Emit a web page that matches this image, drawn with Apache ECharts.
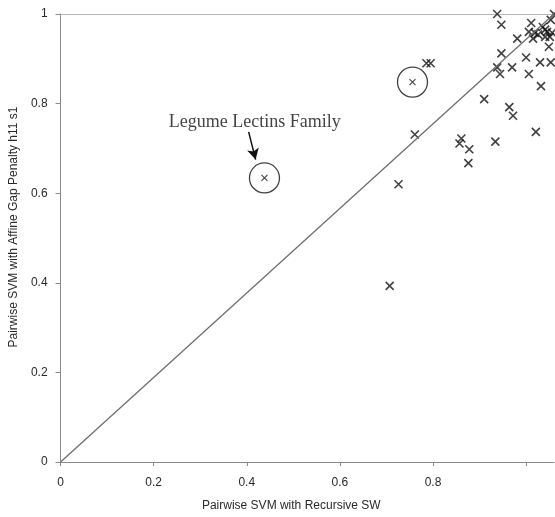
<!DOCTYPE html>
<html>
<head>
<meta charset="utf-8">
<script src="https://cdn.jsdelivr.net/npm/echarts@6/dist/echarts.min.js"></script>
<style>html,body{margin:0;padding:0;background:#fff}#c{width:555px;height:517px}</style>
</head>
<body>
<div id="c"></div>
<script>
// ---- data (x = Pairwise SVM with Recursive SW, y = Pairwise SVM with Affine Gap Penalty h11 s1)
var families = [
  [0.938,1.000],[0.947,0.976],[1.011,0.980],[1.036,0.971],[1.053,0.987],[1.060,1.000],
  [1.006,0.960],[1.019,0.958],[1.045,0.960],[1.056,0.958],[0.981,0.945],[1.015,0.945],
  [1.041,0.949],[1.051,0.949],[1.026,0.954],[1.041,0.965],[1.049,0.927],[0.947,0.912],
  [1.000,0.903],[1.030,0.892],[1.053,0.892],[0.938,0.881],[0.970,0.881],[0.944,0.866],
  [1.006,0.866],[1.032,0.839],[0.910,0.810],[0.964,0.792],[0.972,0.773],[1.021,0.737],
  [0.934,0.715],[0.861,0.722],[0.857,0.711],[0.878,0.698],[0.876,0.667],[0.761,0.731],
  [0.726,0.620],[0.707,0.393],[0.786,0.890],[0.795,0.890]
];
var circled = [[0.438,0.634],[0.756,0.848]];
var diagonal = [[0,0],[1.06,1]];
var annotationText = 'Legume Lectins Family';
var annotationPos = [[0.417,0.758]];
var arrowFrom = [0.404,0.737];
var arrowTo = [0.419,0.675];
var xTicks = [0,0.2,0.4,0.6,0.8,1.0];
var xLabels = [0,0.2,0.4,0.6,0.8];
var yTicks = [0,0.2,0.4,0.6,0.8,1];
var xName = 'Pairwise SVM with Recursive SW';
var yName = 'Pairwise SVM with Affine Gap Penalty h11 s1';

var cross = 'path://M0,0L10,10M10,0L0,10';
var chart = echarts.init(document.getElementById('c'));
chart.setOption({
  animation: false,
  grid: {left: 58, top: 14, width: 496, height: 455},
  xAxis: [{
    type: 'value', min: 0, max: 1.06, interval: 0.2,
    axisLine: {lineStyle: {color: '#8a8a8a', width: 1}},
    axisTick: {show: true, length: 4, customValues: xTicks, lineStyle: {color: '#8a8a8a'}},
    axisLabel: {customValues: xLabels, margin: 15, color: '#2a2a2a', fontSize: 12, fontFamily: 'Liberation Sans, Arial, sans-serif'},
    splitLine: {show: false},
    name: xName, nameLocation: 'middle', nameGap: 38,
    nameTextStyle: {color: '#2a2a2a', fontSize: 12, fontFamily: 'Liberation Sans, Arial, sans-serif', padding: [0, 32, 0, 0]}
  }, {
    type: 'value', min: 0, max: 1.06, position: 'top',
    axisLine: {show: true, onZero: false, lineStyle: {color: '#b5b5b5', width: 1}},
    axisTick: {show: false}, axisLabel: {show: false}, splitLine: {show: false}
  }],
  yAxis: {
    type: 'value', min: 0, max: 1, interval: 0.2,
    axisLine: {show: true, lineStyle: {color: '#8a8a8a', width: 1}},
    axisTick: {show: true, length: 5, customValues: yTicks, lineStyle: {color: '#8a8a8a'}},
    axisLabel: {margin: 13, color: '#2a2a2a', fontSize: 12, fontFamily: 'Liberation Sans, Arial, sans-serif'},
    splitLine: {show: false},
    name: yName, nameLocation: 'middle', nameGap: 32,
    nameTextStyle: {color: '#2a2a2a', fontSize: 12, fontFamily: 'Liberation Sans, Arial, sans-serif', padding: [0, 0, 0, 22]}
  },
  series: [
    {
      type: 'line', data: diagonal, symbol: 'none', silent: true,
      lineStyle: {color: '#6e6e6e', width: 1.3}
    },
    {
      type: 'scatter', data: families, symbol: cross, symbolSize: 8,
      itemStyle: {color: '#111', borderColor: '#111', borderWidth: 1.6}
    },
    {
      type: 'scatter', data: circled, symbol: cross, symbolSize: 6,
      itemStyle: {color: '#111', borderColor: '#111', borderWidth: 1.1}
    },
    {
      type: 'scatter', data: circled, symbol: 'circle', symbolSize: 30,
      itemStyle: {color: 'rgba(0,0,0,0)', borderColor: '#111', borderWidth: 1.3}
    },
    {
      type: 'scatter', data: annotationPos, symbolSize: 0, silent: true,
      label: {
        show: true, position: 'inside', formatter: annotationText,
        color: '#111', fontSize: 18, fontFamily: 'Liberation Serif, Times New Roman, serif'
      },
      markLine: {
        silent: true, symbol: ['none', 'arrow'], symbolSize: [9, 11],
        lineStyle: {color: '#111', width: 1.5, type: 'solid'},
        label: {show: false},
        data: [[{coord: arrowFrom}, {coord: arrowTo}]]
      }
    }
  ]
});
</script>
</body>
</html>
